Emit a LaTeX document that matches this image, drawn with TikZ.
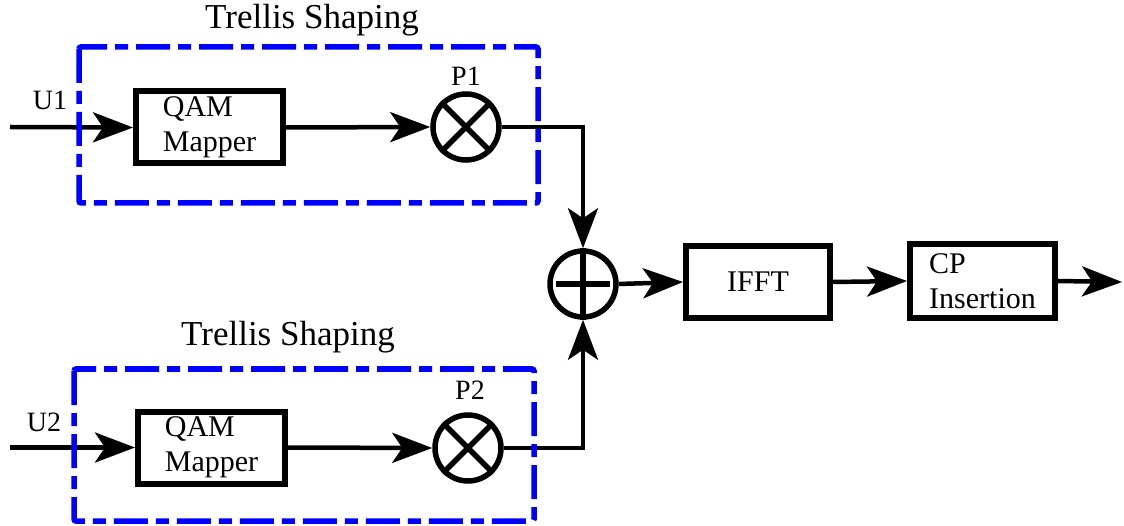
\documentclass[tikz,border=0pt]{standalone}
\usepackage{fontspec}
\setmainfont{Liberation Serif}
\usetikzlibrary{arrows.meta}
\begin{document}
\begin{tikzpicture}[x=1pt,y=-1pt,
  blk/.style={draw, line width=6pt, minimum width=147pt, minimum height=72pt, inner sep=0pt, align=left, font=\fontsize{30}{35}\selectfont},
  mul/.style={draw, circle, line width=5.5pt, minimum size=66pt, inner sep=0pt},
  conn/.style={line width=4.5pt, -{Stealth[length=40pt,width=30pt,inset=10pt]}},
  grp/.style={draw=blue, line width=5.5pt, dash pattern=on 34pt off 8pt on 13pt off 8pt, rounded corners=2pt},
  lbl/.style={font=\fontsize{28}{32}\selectfont, inner sep=0pt},
  ttl/.style={font=\fontsize{35}{40}\selectfont, inner sep=0pt},
  xline/.style={line width=5.5pt},
  bar/.style={line width=6pt}]
\useasboundingbox (0,0) rectangle (1124,526);

% titles and labels
\node[ttl] (t1) at (312,20) {Trellis Shaping};
\node[ttl] (t2) at (288,337) {Trellis Shaping};
\node[lbl] (u1) at (50,100) {U1};
\node[lbl] (u2) at (44,422) {U2};
\node[lbl] (p1) at (466,76) {P1};
\node[lbl] (p2) at (470,390) {P2};

% blocks
\node[blk] (qam1) at (209.5,127.5) {QAM\\Mapper};
\node[blk] (qam2) at (211.5,447.5) {QAM\\Mapper};
\node[blk, minimum width=144pt] (ifft) at (758,282) {IFFT};
\node[blk, minimum width=145pt, minimum height=74pt] (cp) at (982.5,281) {CP\\Insertion};

% multipliers
\node[mul] (m1) at (466,127) {};
\draw[xline] (m1.north west) -- (m1.south east);
\draw[xline] (m1.north east) -- (m1.south west);
\node[mul] (m2) at (468,448) {};
\draw[xline] (m2.north west) -- (m2.south east);
\draw[xline] (m2.north east) -- (m2.south west);

% summer
\node[mul] (sum) at (583,284) {};
\draw[bar] ([xshift=9pt]sum.west) -- ([xshift=-9pt]sum.east);
\draw[bar] (sum.north) -- (sum.south);

% coordinates
\coordinate (in1) at (10,127);
\coordinate (in2) at (10,447.5);
\coordinate (out) at (1122,282);

% connectors
\draw[conn] (in1) -- (qam1.west);
\draw[conn] (in2) -- (qam2.west);
\draw[conn] (qam1.east) -- (m1.west);
\draw[conn] (qam2.east) -- (m2.west);
\draw[conn] (m1.east) -| (sum.north);
\draw[conn] (m2.east) -| (sum.south);
\draw[conn] (sum.east) -- (ifft.west);
\draw[conn] (ifft.east) -- (cp.west);
\draw[conn] (cp.east) -- (out);

% group boxes
\draw[grp] (79,47) rectangle (538,203);
\draw[grp] (74,369) rectangle (534,521);
\end{tikzpicture}
\end{document}
